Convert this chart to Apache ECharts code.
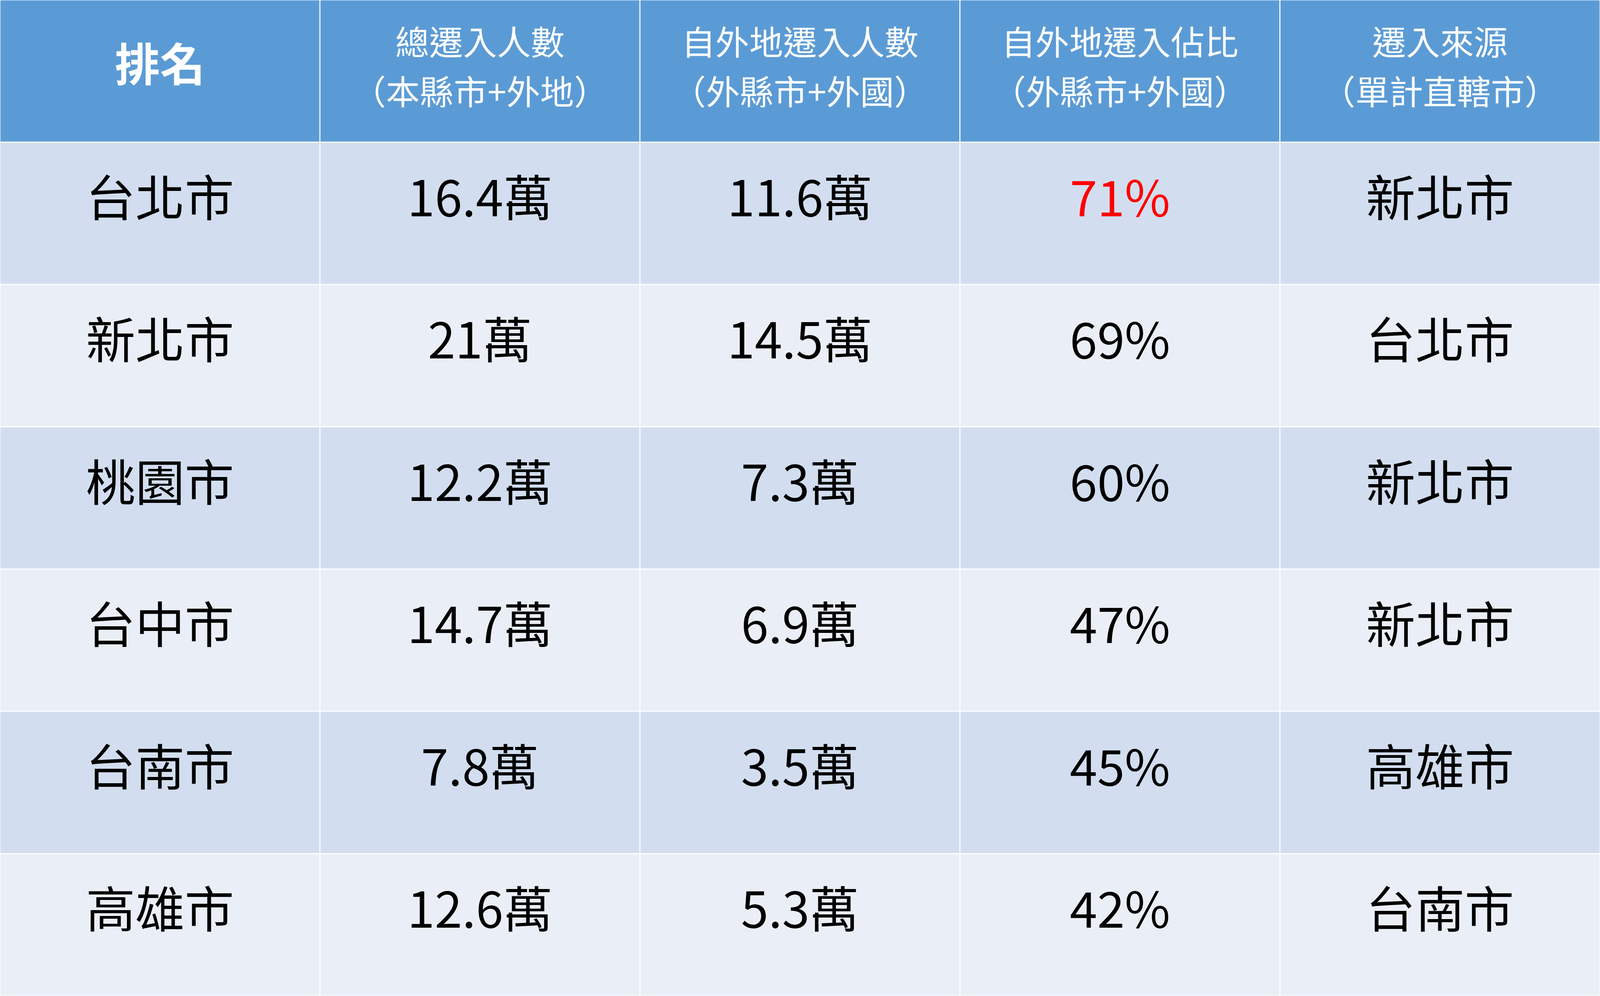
<!DOCTYPE html>
<html>
<head>
<meta charset="utf-8">
<script src="https://cdn.jsdelivr.net/npm/echarts@6/dist/echarts.min.js"></script>
<style>html,body{margin:0;padding:0;background:#fff;overflow:hidden}#main{width:100vw;height:100vh}</style>
</head>
<body>
<div id="main"></div>
<script>
// 表頭與各欄資料
var headers = ['排名', '總遷入人數\n（本縣市+外地）', '自外地遷入人數\n（外縣市+外國）', '自外地遷入佔比\n（外縣市+外國）', '遷入來源\n（單計直轄市）'];
var cities = ['台北市', '新北市', '桃園市', '台中市', '台南市', '高雄市'];
var totalIn = ['16.4萬', '21萬', '12.2萬', '14.7萬', '7.8萬', '12.6萬'];
var outsideIn = ['11.6萬', '14.5萬', '7.3萬', '6.9萬', '3.5萬', '5.3萬'];
var outsideRatio = ['71%', '69%', '60%', '47%', '45%', '42%'];
var sourceCity = ['新北市', '台北市', '新北市', '新北市', '高雄市', '台南市'];

var cols = [cities, totalIn, outsideIn, outsideRatio, sourceCity];
var xCats = ['c0', 'c1', 'c2', 'c3', 'c4'];
var yCats = ['h', 'r0', 'r1', 'r2', 'r3', 'r4', 'r5'];

var k = window.innerWidth / 4536;  // 依視窗寬度縮放字級
var data = [];
for (var c = 0; c < headers.length; c++) {
	data.push({
		value: [c, 0, 0],
		name: headers[c],
		itemStyle: {color: '#5B9BD5'},
		label: {color: '#fff', fontSize: (c == 0 ? 128 : 96) * k, lineHeight: 140 * k, fontWeight: c == 0 ? 'bold' : 'normal', offset: [0, (c == 0 ? -20 : -12) * k]}
	});
}
for (var r = 0; r < cities.length; r++) {
	for (var c = 0; c < cols.length; c++) {
		data.push({
			value: [c, r + 1, 0],
			name: cols[c][r],
			itemStyle: {color: r % 2 == 0 ? '#D2DEEF' : '#EAEFF7'},
			label: {color: (r == 0 && c == 3) ? '#FF0000' : '#000', fontSize: 140 * k, offset: [0, -45 * k]}
		});
	}
}

var myChart = echarts.init(document.getElementById('main'));
var option = {
	backgroundColor: '#fff',
	animation: false,
	grid: {left: 0, right: 0, top: 0, bottom: 0},
	xAxis: {type: 'category', data: xCats, show: false},
	yAxis: {type: 'category', data: yCats, inverse: true, show: false},
	series: [{
		type: 'heatmap',
		data: data,
		silent: true,
		emphasis: {disabled: true},
		itemStyle: {borderColor: '#fff', borderWidth: 3 * k},
		label: {
			show: true,
			fontFamily: 'Noto Sans CJK TC',
			formatter: function (p) { return p.name; }
		}
	}]
};
myChart.setOption(option);
</script>
</body>
</html>
